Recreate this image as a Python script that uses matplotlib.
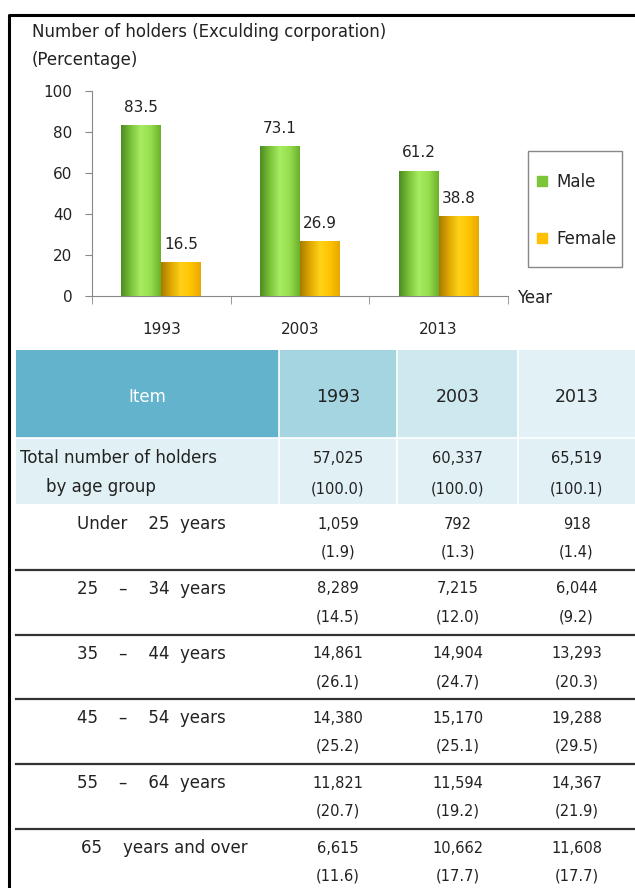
import numpy as np
import matplotlib; matplotlib.use("Agg")
import matplotlib.pyplot as plt
from matplotlib.patches import Rectangle

years = ["1993", "2003", "2013"]
male = [83.5, 73.1, 61.2]
female = [16.5, 26.9, 38.8]

row_labels = ["Under    25  years", "25    \u2013    34  years", "35    \u2013    44  years",
              "45    \u2013    54  years", "55    \u2013    64  years", "65    years and over"]
counts = [["1,059", "792", "918"], ["8,289", "7,215", "6,044"], ["14,861", "14,904", "13,293"],
          ["14,380", "15,170", "19,288"], ["11,821", "11,594", "14,367"], ["6,615", "10,662", "11,608"]]
shares = [["(1.9)", "(1.3)", "(1.4)"], ["(14.5)", "(12.0)", "(9.2)"], ["(26.1)", "(24.7)", "(20.3)"],
          ["(25.2)", "(25.1)", "(29.5)"], ["(20.7)", "(19.2)", "(21.9)"], ["(11.6)", "(17.7)", "(17.7)"]]
total_counts = ["57,025", "60,337", "65,519"]
total_shares = ["(100.0)", "(100.0)", "(100.1)"]

W, H = 635, 888
FW = 12      # words
FN = 11      # chart numbers
FT = 10.5    # table numbers
TXT = "#222222"
plt.rcParams["font.family"] = ["DejaVu Sans"]
fig = plt.figure(figsize=(W / 100, H / 100), dpi=100)

# overlay in pixel coords for frame, titles and table
ov = fig.add_axes([0, 0, 1, 1]); ov.set_xlim(0, W); ov.set_ylim(H, 0); ov.axis("off")
ov.plot([9, 9, W], [H, 15, 15], color="black", lw=2.2, solid_capstyle="butt")
ov.text(32, 32, "Number of holders (Exculding corporation)", fontsize=FW, color=TXT, va="center")
ov.text(32, 60, "(Percentage)", fontsize=FW, color=TXT, va="center")

# chart
ax = fig.add_axes([92 / W, 1 - 296 / H, 416 / W, 205 / H], zorder=2)
ax.patch.set_alpha(0)
x = np.arange(len(years))
bw = 0.288

def shade(bars, cmap_cols):
    grad = np.linspace(0, 1, 64).reshape(1, -1)
    cm = matplotlib.colors.LinearSegmentedColormap.from_list("g", cmap_cols)
    for b in bars:
        x0, w, h = b.get_x(), b.get_width(), b.get_height()
        im = ax.imshow(grad, cmap=cm, extent=(x0, x0 + w, 0, h), aspect="auto", zorder=3)
        im.set_clip_path(b)

bm = ax.bar(x - bw / 2, male, bw, color="#8fd444", zorder=2, edgecolor="none")
bf = ax.bar(x + bw / 2, female, bw, color="#ffc000", zorder=2, edgecolor="none")
shade(bm, ["#4e8c22", "#7cc43a", "#a8ec62", "#96de4e", "#6cb02c"])
shade(bf, ["#a87c00", "#e0a800", "#ffd21a", "#ffc400", "#e8a800"])
for xs, vals in ((x - bw / 2, male), (x + bw / 2, female)):
    for xi, v in zip(xs, vals):
        ax.text(xi, v + 5, f"{v:.1f}", ha="center", va="bottom", fontsize=FN, color=TXT)

ax.set_xlim(-0.5, 2.5); ax.set_ylim(0, 100)
ax.set_yticks(range(0, 101, 20))
ax.tick_params(axis="y", labelsize=FN, colors="#888888", labelcolor=TXT, length=5, pad=9)
ax.set_xticks(x); ax.set_xticklabels(years, fontsize=FN, color=TXT)
ax.tick_params(axis="x", length=0, pad=19)
ax.set_xticks([-0.5, 0.5, 1.5, 2.5], minor=True)
ax.tick_params(axis="x", which="minor", length=6, color="#888888")
for s in ("top", "right"):
    ax.spines[s].set_visible(False)
for s in ("left", "bottom"):
    ax.spines[s].set_color("#888888")
ov.text(517, 298, "Year", fontsize=FW, color=TXT, va="center")

# legend
ov.add_patch(Rectangle((528, 151), 94, 116, fill=False, ec="#888888", lw=1))
ov.add_patch(Rectangle((537, 176), 10, 10, color="#7cc43a"))
ov.add_patch(Rectangle((537, 233), 10, 10, color="#ffc000"))
ov.text(556, 182, "Male", fontsize=FW, color=TXT, va="center")
ov.text(556, 239, "Female", fontsize=FW, color=TXT, va="center")

# table
cols = [16, 279, 397, 518, W]
hdr_colors = ["#62b3cb", "#a6d5e2", "#cde8ef", "#e2f1f6"]
centers = [(cols[i] + cols[i + 1]) / 2 for i in range(1, 4)]
for i, c in enumerate(hdr_colors):
    ov.add_patch(Rectangle((cols[i], 350), cols[i + 1] - cols[i], 88, color=c, lw=0))
ov.add_patch(Rectangle((16, 438), W - 16, 66, color="#e1f0f5", lw=0))
ov.plot([16, W], [438, 438], color="white", lw=1.2)
for cx in cols[1:4]:
    ov.plot([cx, cx], [350, 504], color="white", lw=1.2)
ov.text(147, 397, "Item", fontsize=FW, color="white", ha="center", va="center")
for cx, yr in zip(centers, years):
    ov.text(cx, 397, yr, fontsize=FN + 1.5, color=TXT, ha="center", va="center")
ov.text(20, 458, "Total number of holders", fontsize=FW, color=TXT, va="center")
ov.text(46, 487, "by age group", fontsize=FW, color=TXT, va="center")
for cx, a, b in zip(centers, total_counts, total_shares):
    ov.text(cx, 458, a, fontsize=FT, color=TXT, ha="center", va="center")
    ov.text(cx, 489, b, fontsize=FT, color=TXT, ha="center", va="center")

row_h = 64.8
for r, lab in enumerate(row_labels):
    top = 505 + r * row_h
    if r > 0:
        ov.plot([16, W], [top, top], color="#333333", lw=1.6)
    ov.text(81 if r == 5 else 77, top + 19, lab, fontsize=FW, color=TXT, va="center")
    for cx, a, b in zip(centers, counts[r], shares[r]):
        ov.text(cx, top + 19, a, fontsize=FT, color=TXT, ha="center", va="center")
        ov.text(cx, top + 47, b, fontsize=FT, color=TXT, ha="center", va="center")

fig.savefig("out.png", dpi=100)
